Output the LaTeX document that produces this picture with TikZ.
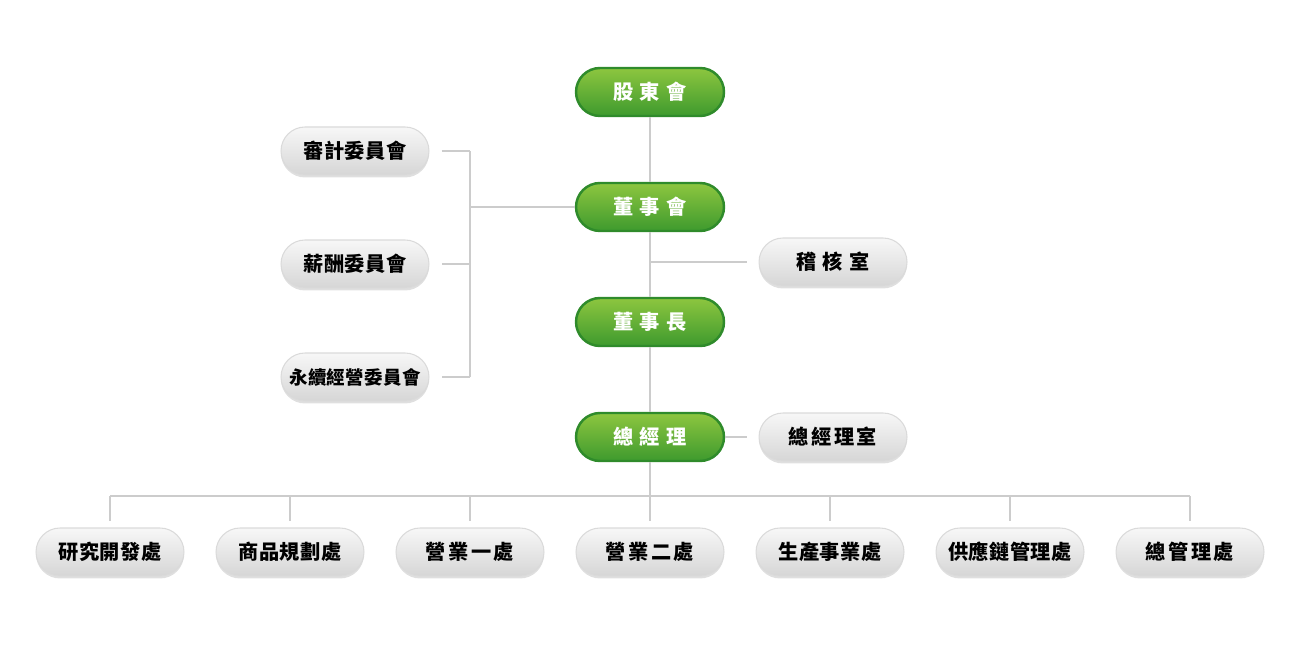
\documentclass[tikz,border=0pt]{standalone}
\usepackage{fontspec}
\newfontfamily\cjk{Noto Sans CJK TC}[LetterSpace=2]
\newfontfamily\cjkwide{Noto Sans CJK TC}[LetterSpace=30]
\usepackage{tikz}
\usetikzlibrary{shadows}
\definecolor{greentop}{HTML}{8DC63F}
\definecolor{greenbot}{HTML}{3E9A2E}
\definecolor{greenline}{HTML}{2F8B2B}
\definecolor{graytop}{HTML}{F7F7F7}
\definecolor{graybot}{HTML}{D6D6D6}
\definecolor{grayline}{HTML}{DADADA}
\definecolor{connline}{HTML}{CCCCCC}
\tikzstyle{pill} = [minimum width=2.96cm,minimum height=0.96cm,inner sep=0pt,rounded corners=0.48cm,font=\cjk\bfseries\fontsize{11.5}{13}\selectfont]
\tikzstyle{leader} = [pill,top color=greentop,bottom color=greenbot,draw=greenline,line width=1.4pt,text=white,font=\cjkwide\bfseries\fontsize{11.5}{13}\selectfont]
\tikzstyle{unit} = [pill,top color=graytop,bottom color=graybot,draw=grayline,line width=0.6pt,text=black,drop shadow={opacity=0.25,shadow xshift=0pt,shadow yshift=-0.05cm}]
\tikzstyle{conn} = [draw=connline,line width=0.6pt]

\begin{document}
\begin{tikzpicture}[x=0.02cm,y=-0.02cm]
    \useasboundingbox (0,0) rectangle (1300,651);

    % main line
    \node[leader] (sh) at (650,92) {股東會};
    \node[leader] (bd) at (650,207) {董事會};
    \node[leader] (chair) at (650,322) {董事長};
    \node[leader] (gm) at (650,437) {總經理};

    % committees
    \node[unit] (audit) at (355,151) {審計委員會};
    \node[unit] (comp) at (355,264) {薪酬委員會};
    \node[unit] (sust) at (355,377) {\fontsize{10.5}{12}\selectfont 永續經營委員會};

    % staff units
    \node[unit] (inaudit) at (833,262) {\cjkwide 稽核室};
    \node[unit] (gmo) at (833,437) {\cjkwide\addfontfeature{LetterSpace=12} 總經理室};

    % divisions
    \node[unit] (rd) at (110,552) {研究開發處};
    \node[unit] (plan) at (290,552) {商品規劃處};
    \node[unit] (sales1) at (470,552) {\cjkwide\addfontfeature{LetterSpace=12} 營業一處};
    \node[unit] (sales2) at (650,552) {\cjkwide\addfontfeature{LetterSpace=12} 營業二處};
    \node[unit] (prod) at (830,552) {生產事業處};
    \node[unit] (scm) at (1010,552) {供應鏈管理處};
    \node[unit] (admin) at (1190,552) {\cjkwide\addfontfeature{LetterSpace=12} 總管理處};

    % junctions
    \coordinate (lt) at (470,151);
    \coordinate (lm) at (470,207);
    \coordinate (lc) at (470,264);
    \coordinate (lb) at (470,377);
    \coordinate (rj) at (650,262);
    \coordinate (bus1) at (110,496);
    \coordinate (bus2) at (290,496);
    \coordinate (bus3) at (470,496);
    \coordinate (bus4) at (650,496);
    \coordinate (bus5) at (830,496);
    \coordinate (bus6) at (1010,496);
    \coordinate (bus7) at (1190,496);

    \draw[conn] (sh) -- (bd) -- (chair) -- (gm) -- (bus4);
    \draw[conn] (bd) -- (lm);
    \draw[conn,shorten <=0.24cm] (audit) -- (lt);
    \draw[conn] (lt) -- (lb);
    \draw[conn,shorten >=0.24cm] (lb) -- (sust);
    \draw[conn,shorten >=0.24cm] (lc) -- (comp);
    \draw[conn,shorten >=0.24cm] (rj) -- (inaudit);
    \draw[conn,shorten >=0.24cm] (gm) -- (gmo);
    \draw[conn] (bus1) -- (bus7);
    \foreach \b/\d in {1/rd,2/plan,3/sales1,4/sales2,5/prod,6/scm,7/admin}
        \draw[conn,shorten >=0.12cm] (bus\b) -- (\d);
\end{tikzpicture}
\end{document}
